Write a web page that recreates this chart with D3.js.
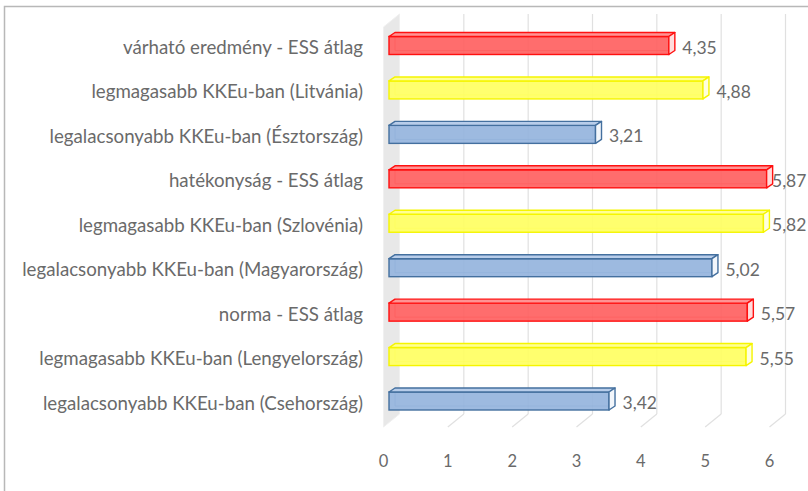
<!DOCTYPE html>
<html><head><meta charset="utf-8">
<script src="https://cdn.jsdelivr.net/npm/d3@7"></script>
<style>body{margin:0;background:#fff}svg{display:block}text{font-family:Lato,"Open Sans",sans-serif;fill:#6a6a6a}</style>
</head><body>
<script>
const categories = [
  "várható eredmény - ESS átlag",
  "legmagasabb KKEu-ban (Litvánia)",
  "legalacsonyabb KKEu-ban (Észtország)",
  "hatékonyság - ESS átlag",
  "legmagasabb KKEu-ban (Szlovénia)",
  "legalacsonyabb KKEu-ban (Magyarország)",
  "norma - ESS átlag",
  "legmagasabb KKEu-ban (Lengyelország)",
  "legalacsonyabb KKEu-ban (Csehország)"
];
const values = [4.35, 4.88, 3.21, 5.87, 5.82, 5.02, 5.57, 5.55, 3.42];
const groups = ["red", "yellow", "blue", "red", "yellow", "blue", "red", "yellow", "blue"];
const tickValues = [0, 1, 2, 3, 4, 5, 6];
const valueLabels = ["4,35", "4,88", "3,21", "5,87", "5,82", "5,02", "5,57", "5,55", "3,42"];

const palette = {
  red:    {front: "#ff6161", top: "#ff9494", side: "#ffdcdc", stroke: "#ff1010"},
  yellow: {front: "#ffff62", top: "#ffff94", side: "#ffffdc", stroke: "#f5f500"},
  blue:   {front: "#95b4dd", top: "#b8cdea", side: "#f2f6fb", stroke: "#44709f"}
};

const W = 808, H = 491;
const svg = d3.select("body").append("svg").attr("width", W).attr("height", H);

svg.append("rect").attr("x", 4.5).attr("y", 6.5).attr("width", 820).attr("height", 500)
  .attr("fill", "none").attr("stroke", "#b8b8b8").attr("stroke-width", 1.5);

const x = d3.scaleLinear().domain([0, 6]).range([383.5, 769.5]);
const depth = {dx: 16, dy: -13};
const floorY = 427;
const wallTop = 14;
const y = d3.scalePoint().domain(categories).range([45.5, 401]);
const barOff = {dx: 5.5};
const bd = {dx: 6, dy: -4};
const barH = 18;

svg.append("polygon")
  .attr("points", [[x(0), floorY], [x(0), wallTop - depth.dy], [x(0) + depth.dx, wallTop], [x(0) + depth.dx, floorY + depth.dy]].map(p => p.join(",")).join(" "))
  .attr("fill", "#e8e8e8").attr("stroke", "#f0f0f0");

const grid = svg.append("g");
tickValues.filter(t => t > 0).forEach(t => {
  grid.append("line").attr("x1", x(t) + depth.dx).attr("x2", x(t) + depth.dx)
    .attr("y1", wallTop).attr("y2", floorY + depth.dy)
    .attr("stroke", "#e0e0e0").attr("stroke-width", 1.2);
  grid.append("line").attr("x1", x(t)).attr("x2", x(t) + depth.dx)
    .attr("y1", floorY).attr("y2", floorY + depth.dy)
    .attr("stroke", "#e0e0e0").attr("stroke-width", 1.2);
});

svg.append("g").selectAll("text").data(tickValues).join("text")
  .attr("x", d => x(d)).attr("y", 461).attr("text-anchor", "middle")
  .attr("dominant-baseline", "central").attr("font-size", 16.5).text(d => d);

const labels = svg.append("g").selectAll("text").data(categories).join("text")
  .attr("x", 363).attr("y", d => y(d) + 1.5).attr("text-anchor", "end")
  .attr("dominant-baseline", "central").attr("font-size", 15).text(d => d);
const longest = d3.max(labels.nodes(), n => n.getComputedTextLength());
labels.attr("font-size", 15 * 341 / longest);

const bars = svg.append("g").selectAll("g").data(categories).join("g");
bars.each(function(c, i) {
  const g = d3.select(this);
  const col = palette[groups[i]];
  const x0 = x(0) + barOff.dx, x1 = x(values[i]) + barOff.dx;
  const yt = y(c) - barH / 2, yb = y(c) + barH / 2;
  g.append("polyline")
    .attr("points", [[x0 + bd.dx, yt + bd.dy], [x0 + bd.dx, yb + bd.dy], [x1 + bd.dx, yb + bd.dy]].map(p => p.join(",")).join(" "))
    .attr("fill", "none").attr("stroke", col.stroke).attr("stroke-opacity", 0.6).attr("stroke-width", 1);
  g.append("rect").attr("x", x0).attr("y", yt).attr("width", x1 - x0).attr("height", barH)
    .attr("fill", col.front).attr("fill-opacity", 0.92).attr("stroke", col.stroke).attr("stroke-width", 1.4);
  g.append("polygon")
    .attr("points", [[x0, yt], [x0 + bd.dx, yt + bd.dy], [x1 + bd.dx, yt + bd.dy], [x1, yt]].map(p => p.join(",")).join(" "))
    .attr("fill", col.top).attr("stroke", col.stroke).attr("stroke-width", 1.4).attr("stroke-linejoin", "round");
  g.append("polygon")
    .attr("points", [[x1, yt], [x1 + bd.dx, yt + bd.dy], [x1 + bd.dx, yb + bd.dy], [x1, yb]].map(p => p.join(",")).join(" "))
    .attr("fill", col.side).attr("stroke", col.stroke).attr("stroke-width", 1.4).attr("stroke-linejoin", "round");
  g.append("text").attr("x", Math.min(x1 + bd.dx + 7.5, 772)).attr("y", y(c) + 1.5)
    .attr("dominant-baseline", "central").attr("font-size", 17.5).text(valueLabels[i]);
});
</script>
</body></html>
